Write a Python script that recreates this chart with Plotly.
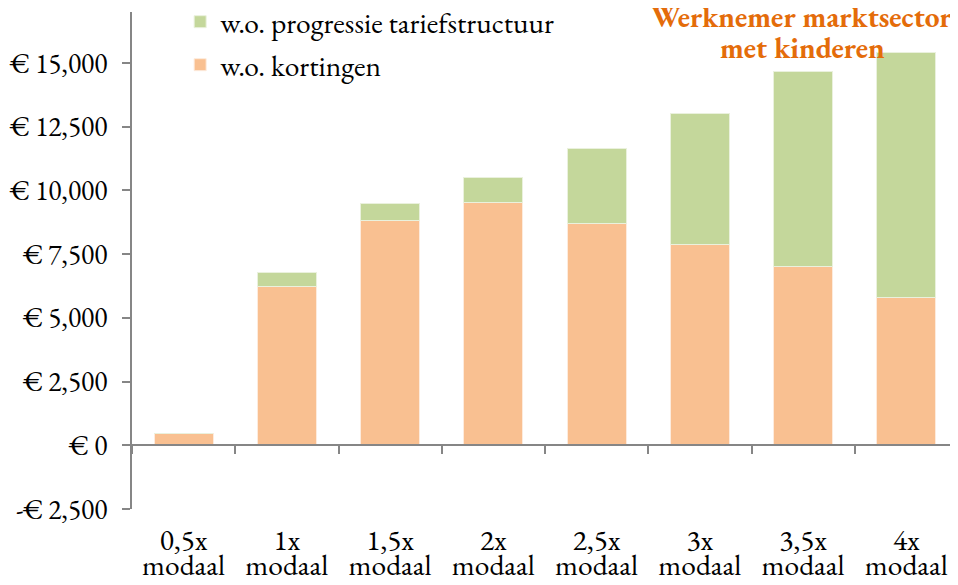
import plotly.graph_objects as go

categories = ["0,5x", "1x", "1,5x", "2x", "2,5x", "3x", "3,5x", "4x"]
category_line2 = ["modaal"] * 8
kortingen = [480, 6220, 8820, 9530, 8700, 7880, 7000, 5800]
progressie = [0, 540, 670, 990, 2950, 5140, 7670, 9600]
y_tickvals = [-2500, 0, 2500, 5000, 7500, 10000, 12500, 15000]
y_ticktext = ["-€ 2,500", "€ 0", "€ 2,500", "€ 5,000", "€ 7,500", "€ 10,000", "€ 12,500", "€ 15,000"]
y_range = [-2500, 17000]
title_lines = ["Werknemer marktsector", "met kinderen"]

FONT = "EB Garamond"
FS = 29.5
FS_Y = 27.5
AX = "#868686"

fig = go.Figure()
fig.add_trace(go.Bar(x=categories, y=kortingen, name="w.o. kortingen", legend="legend2",
                     marker=dict(color="#F9C091", line=dict(color="#FDEBDD", width=1))))
fig.add_trace(go.Bar(x=categories, y=progressie, name="w.o. progressie tariefstructuur", legend="legend",
                     marker=dict(color="#C4D79B", line=dict(color="#EAF1DD", width=1))))
# helper traces for the extra category axes (axis at y = 0, and first label line)
for ax in ["x2", "x3"]:
    fig.add_trace(go.Scatter(x=categories, y=[0] * len(categories), xaxis=ax, mode="markers",
                             marker=dict(opacity=0), showlegend=False, hoverinfo="skip"))

zero_pos = (0 - y_range[0]) / (y_range[1] - y_range[0])
PH = 577 - 4 - 76


def py(page_y):
    return 1 - (page_y - 12) / PH


leg = dict(xanchor="left", yanchor="middle", font=dict(family=FONT, size=FS), itemwidth=30,
           bgcolor="rgba(0,0,0,0)")

annotations = [dict(text=f"<b>{t}</b>", xref="paper", yref="paper",
                    x=(802 - 132) / 826, y=py(yy), xanchor="center", yanchor="middle",
                    showarrow=False, font=dict(family=FONT, size=FS, color="#E46C0A"))
               for t, yy in zip(title_lines, [17, 47])]

fig.update_layout(
    width=950, height=577,
    barmode="stack", bargap=0.43,
    plot_bgcolor="white", paper_bgcolor="white",
    margin=dict(l=124, r=0, t=4, b=76, autoexpand=False),
    font=dict(family=FONT, size=FS, color="black"),
    legend=dict(leg, x=0.0583, y=py(22)),
    legend2=dict(leg, x=0.0583, y=py(65)),
    xaxis=dict(showline=False, ticks="", tickvals=categories, ticktext=category_line2,
               tickfont=dict(family=FONT, size=FS), ticklabelstandoff=35),
    xaxis3=dict(matches="x", overlaying="x", anchor="free", position=0, showline=False, ticks="",
                showgrid=False, tickfont=dict(family=FONT, size=FS), ticklabelstandoff=10),
    xaxis2=dict(matches="x", overlaying="x", anchor="free", position=zero_pos,
                showline=True, linecolor=AX, linewidth=2, ticks="outside", tickson="boundaries",
                ticklen=8, tickwidth=2, tickcolor=AX, showticklabels=False, showgrid=False),
    yaxis=dict(range=y_range, tickvals=y_tickvals, ticktext=y_ticktext, showgrid=False,
               tickfont=dict(family=FONT, size=FS_Y),
               zeroline=False, showline=True, linecolor=AX, linewidth=2, ticks="outside",
               ticklen=8, tickwidth=2, tickcolor=AX, ticklabelstandoff=9),
    annotations=annotations,
)

fig.write_html("out.html")
